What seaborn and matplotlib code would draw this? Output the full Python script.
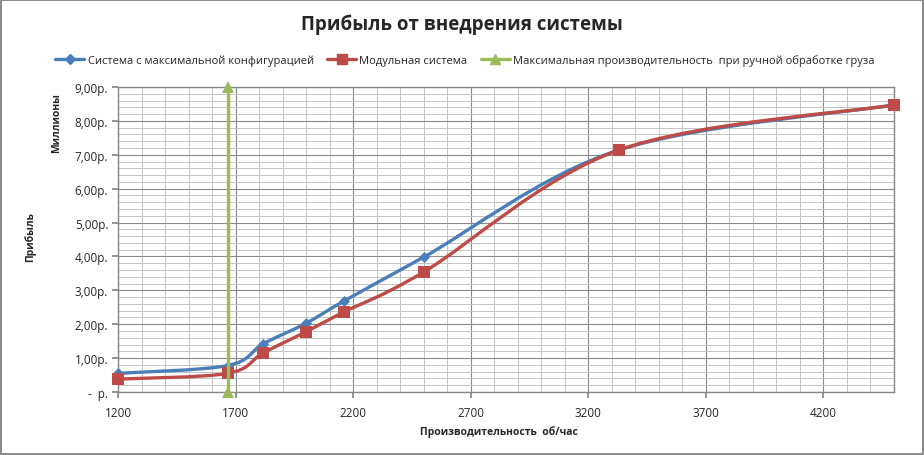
import numpy as np
import matplotlib
matplotlib.use('Agg')
import matplotlib.pyplot as plt
from matplotlib.path import Path
from matplotlib.patches import PathPatch
from matplotlib.lines import Line2D
from matplotlib.ticker import MultipleLocator, FuncFormatter
import seaborn as sns

# Data (millions of roubles vs throughput)
throughput = [1200, 1666, 1817, 2000, 2160, 2500, 3330, 4500]
profit_max_cfg = [0.55, 0.78, 1.42, 2.03, 2.68, 3.98, 7.14, 8.47]
profit_modular = [0.38, 0.55, 1.15, 1.78, 2.36, 3.54, 7.14, 8.47]
manual_x = [1666, 1666]
manual_y = [0, 9]

series_names = ['Система с максимальной конфигурацией', 'Модульная система',
                'Максимальная производительность  при ручной обработке груза']

sns.set_theme(style='white')
plt.rcParams['font.family'] = ['Open Sans', 'DejaVu Sans']

blue = '#4A7EBB'
red = '#BE4B48'
green = '#9BBB59'

W, H = 924, 456
fig = plt.figure(figsize=(W / 100, H / 100), dpi=100, edgecolor='#8C8C8C', linewidth=1.5)
ax = fig.add_axes([118 / W, 1 - 393 / H, (894 - 118) / W, (393 - 88) / H])


def smooth_path(xs, ys):
    # Excel-like smoothed line: Catmull-Rom segments as cubic Beziers
    pts = np.column_stack([xs, ys]).astype(float)
    verts = [pts[0]]
    codes = [Path.MOVETO]
    n = len(pts)
    for i in range(n - 1):
        p0 = pts[max(i - 1, 0)]
        p1 = pts[i]
        p2 = pts[i + 1]
        p3 = pts[min(i + 2, n - 1)]
        c1 = p1 + (p2 - p0) / 6
        c2 = p2 - (p3 - p1) / 6
        verts += [c1, c2, p2]
        codes += [Path.CURVE4] * 3
    return Path(verts, codes)


ax.add_patch(PathPatch(smooth_path(throughput, profit_max_cfg), facecolor='none',
                       edgecolor=blue, lw=2.4, zorder=3, capstyle='round', clip_on=False))
sns.scatterplot(x=throughput, y=profit_max_cfg, marker='D', s=32, color=blue,
                edgecolor=blue, linewidth=0, zorder=4, ax=ax, clip_on=False)

ax.add_patch(PathPatch(smooth_path(throughput, profit_modular), facecolor='none',
                       edgecolor=red, lw=2.4, zorder=5, capstyle='round', clip_on=False))
sns.scatterplot(x=throughput, y=profit_modular, marker='s', s=64, color=red,
                edgecolor=red, linewidth=0, zorder=6, ax=ax, clip_on=False)

sns.lineplot(x=manual_x, y=manual_y, estimator=None, sort=False, color=green,
             lw=2.4, marker='^', markersize=8, markeredgewidth=0, zorder=7, ax=ax,
             clip_on=False)

ax.set_xlim(1200, 4500)
ax.set_ylim(0, 9)
ax.xaxis.set_major_locator(MultipleLocator(500))
ax.xaxis.set_minor_locator(MultipleLocator(100))
ax.yaxis.set_major_locator(MultipleLocator(1))
ax.yaxis.set_minor_locator(MultipleLocator(0.2))
ax.set_xticks(range(1200, 4501, 500))
ax.grid(which='major', color='#8A8A8A', lw=0.8, zorder=0)
ax.grid(which='minor', color='#C4C4C4', lw=0.7, zorder=0)
ax.set_axisbelow(True)
for s in ax.spines.values():
    s.set_color('#868686')
    s.set_linewidth(1)

ax.yaxis.set_major_formatter(FuncFormatter(
    lambda v, p: '-  р.' if v == 0 else f'{v:.2f}'.replace('.', ',') + 'р.'))
ax.tick_params(which='major', direction='out', length=4, color='#868686',
               labelsize=8.5, pad=3, left=True, bottom=True)
ax.tick_params(which='minor', length=0)
ax.tick_params(axis='x', pad=6)
ax.set_xlabel('')
ax.set_ylabel('')

fig.text(462 / W, 1 - 25 / H, 'Прибыль от внедрения системы', ha='center', va='center',
         fontsize=13.5, fontweight='bold')
fig.text(499 / W, 1 - 432 / H, 'Производительность  об/час', ha='center', va='center',
         fontsize=7.5, fontweight='bold')
fig.text(30 / W, 1 - 237 / H, 'Прибыль', ha='center', va='center', rotation=90,
         fontsize=7.5, fontweight='bold')
fig.text(57 / W, 1 - 123 / H, 'Миллионы', ha='center', va='center', rotation=90,
         fontsize=7.5, fontweight='bold')

handles = [Line2D([], [], color=blue, lw=2.4, marker='D', markersize=5),
           Line2D([], [], color=red, lw=2.4, marker='s', markersize=7),
           Line2D([], [], color=green, lw=2.4, marker='^', markersize=7)]
fig.legend(handles, series_names, loc='center', bbox_to_anchor=(465 / W, 1 - 61 / H),
           ncol=3, frameon=False, fontsize=8, handlelength=2.6, handletextpad=0.3,
           columnspacing=1.2)

fig.savefig('out.png', dpi=100)
